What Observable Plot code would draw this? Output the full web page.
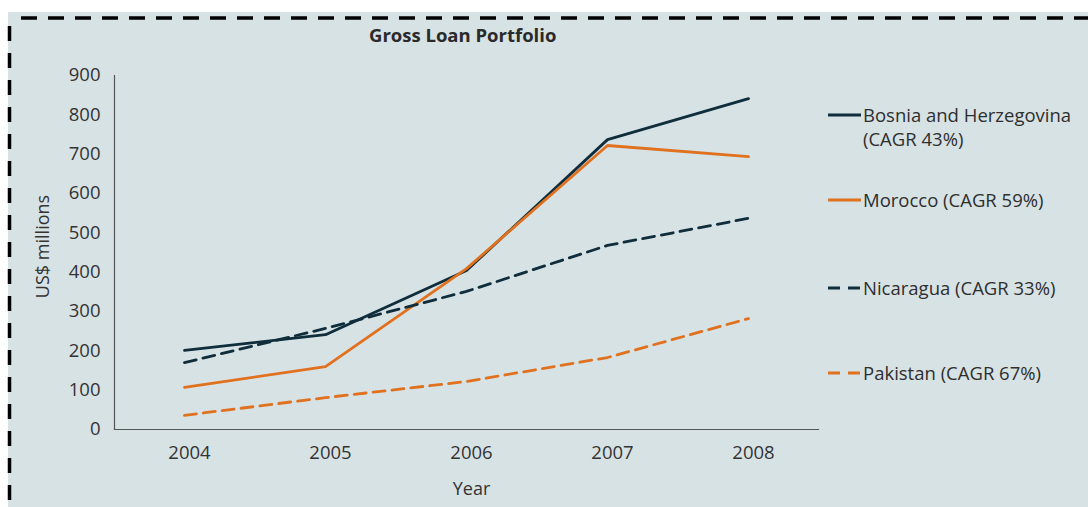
<!DOCTYPE html>
<html>
<head>
<meta charset="utf-8">
<script src="https://cdn.jsdelivr.net/npm/d3@7"></script>
<script src="https://cdn.jsdelivr.net/npm/@observablehq/plot@0.6"></script>
<style>
  html, body { margin: 0; padding: 0; background: #fff; }
  #page { position: relative; width: 1088px; height: 507px; overflow: hidden; background: #fff; font-family: "Open Sans", Lato, sans-serif; }
  #panel { position: absolute; left: 8px; top: 12px; width: 1080px; height: 495px; background: #d7e2e5; }
  #border { position: absolute; left: 0; top: 0; }
  #chart { position: absolute; left: 0; top: 0; }
  #title { position: absolute; left: 369px; top: 24px; font-weight: 700; font-size: 18.5px; line-height: 22px; color: #2a2a2a; white-space: nowrap; }
  .leg { position: absolute; left: 828px; display: flex; align-items: flex-start; font-size: 18.5px; color: #2e2e2e; line-height: 24.5px; white-space: nowrap; }
  .leg svg { margin-top: 10.25px; margin-right: 2px; flex: none; }
</style>
</head>
<body>
<div id="page">
  <div id="panel"></div>
  <svg id="border" width="1088" height="507">
    <line x1="10" y1="18" x2="1088" y2="18" stroke="#000" stroke-width="3.5" stroke-dasharray="16 11" stroke-dashoffset="-11"></line>
    <line x1="9.5" y1="18" x2="9.5" y2="507" stroke="#000" stroke-width="3.5" stroke-dasharray="15 12" stroke-dashoffset="-8"></line>
  </svg>
  <div id="chart"></div>
  <div id="title">Gross Loan Portfolio</div>
  <div id="legend"></div>
</div>
<script>
const years = [2004, 2005, 2006, 2007, 2008];
const countries = ["Bosnia and Herzegovina", "Morocco", "Nicaragua", "Pakistan"];
const legendLabels = ["Bosnia and Herzegovina<br>(CAGR 43%)", "Morocco (CAGR 59%)", "Nicaragua (CAGR 33%)", "Pakistan (CAGR 67%)"];
const bosnia    = [201, 241, 404, 737, 841];
const morocco   = [107, 160, 409, 722, 694];
const nicaragua = [170, 257, 351, 468, 537];
const pakistan  = [36, 81, 122, 183, 282];
const yTicks = [0, 100, 200, 300, 400, 500, 600, 700, 800, 900];

const seriesValues = [bosnia, morocco, nicaragua, pakistan];
const colors = ["#0f2d3b", "#e0711e", "#0f2d3b", "#e0711e"];
const dashes = [null, null, "12 7", "12 7"];
const legendTops = [102.5, 187.5, 275.5, 360.5];

const rows = [];
countries.forEach((c, i) => years.forEach((y, j) => rows.push({country: c, year: y, value: seriesValues[i][j]})));

const font = "'Open Sans', Lato, sans-serif";
const fs = 18.5;
const marks = [
  Plot.axisY({ticks: yTicks, tickSize: 0, tickPadding: 14, fontSize: fs, label: null, fill: "#333"}),
  Plot.axisX({tickSize: 0, tickPadding: 16, fontSize: fs, label: null, dx: 5, fill: "#333", tickFormat: d => String(d)}),
  Plot.frame({anchor: "left", stroke: "#555", strokeWidth: 1.2}),
  Plot.frame({anchor: "bottom", stroke: "#555", strokeWidth: 1.2})
];
countries.forEach((c, i) => {
  marks.push(Plot.lineY(rows.filter(d => d.country === c), {
    x: "year", y: "value", stroke: colors[i], strokeWidth: 2.8,
    strokeDasharray: dashes[i] || undefined, curve: "linear"
  }));
});
marks.push(Plot.text(["US$ millions"], {frameAnchor: "left", textAnchor: "middle", rotate: -90, dx: -71, dy: -6, fontSize: 18, fill: "#333"}));
marks.push(Plot.text(["Year"], {frameAnchor: "bottom", dy: 65, dx: 5, fontSize: 18, fill: "#333"}));

const chart = Plot.plot({
  width: 1088,
  height: 507,
  marginLeft: 114,
  marginRight: 270,
  marginTop: 75,
  marginBottom: 78,
  style: {background: "transparent", fontFamily: font, overflow: "visible"},
  x: {type: "point", domain: years, padding: 0.49},
  y: {domain: [0, 900]},
  marks
});
document.getElementById("chart").appendChild(chart);

const legend = document.getElementById("legend");
countries.forEach((c, i) => {
  const div = document.createElement("div");
  div.className = "leg";
  div.style.top = legendTops[i] + "px";
  div.innerHTML = `<svg width="33" height="4"><line x1="0" y1="2" x2="33" y2="2" stroke="${colors[i]}" stroke-width="2.8" ${dashes[i] ? 'stroke-dasharray="12 8"' : ''}></line></svg><span>${legendLabels[i]}</span>`;
  legend.appendChild(div);
});
</script>
</body>
</html>
